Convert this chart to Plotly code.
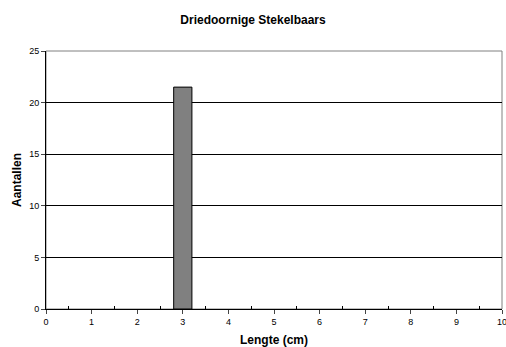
import plotly.graph_objects as go

lengths = [3]
counts = [21.5]
x_ticks = list(range(0, 11))
y_ticks = [0, 5, 10, 15, 20, 25]

fig = go.Figure()
fig.add_trace(go.Bar(x=lengths, y=counts, width=0.4,
                     marker=dict(color="#808080", line=dict(color="black", width=1))))

font = "Liberation Sans, Arial, sans-serif"
fig.update_layout(
    width=506, height=347,
    margin=dict(l=46, r=4, t=51, b=38, autoexpand=False),
    paper_bgcolor="white", plot_bgcolor="white",
    showlegend=False,
    title=dict(text="<b>Driedoornige Stekelbaars</b>", x=0.5, xanchor="center",
               y=1 - 20/347, yanchor="middle",
               font=dict(family=font, size=12, color="black")),
    font=dict(family=font, size=9, color="black"),
)
fig.update_xaxes(range=[0, 10], tickvals=x_ticks, ticks="outside", ticklen=4,
                 showline=True, linecolor="black", linewidth=1, mirror=False,
                 showgrid=False, zeroline=False, ticklabeloverflow="allow",
                 automargin=False,
                 minor=dict(tick0=0.5, dtick=1, ticks="inside", ticklen=3,
                            tickcolor="black", showgrid=False),
                 tickfont=dict(size=9),
                 title=dict(text="<b>Lengte (cm)</b>", font=dict(size=12), standoff=9))
fig.update_yaxes(range=[0, 25], tickvals=y_ticks, ticks="outside", ticklen=4,
                 showline=True, linecolor="black", linewidth=1,
                 showgrid=True, gridcolor="black", gridwidth=1, zeroline=False,
                 automargin=False,
                 tickfont=dict(size=9),
                 title=dict(text="<b>Aantallen</b>", font=dict(size=12), standoff=4))
# gray plot border on top and right
fig.add_shape(type="rect", xref="paper", yref="paper", x0=0, y0=0, x1=1, y1=1,
              line=dict(color="#808080", width=1), layer="below")
fig.write_html("out.html")
